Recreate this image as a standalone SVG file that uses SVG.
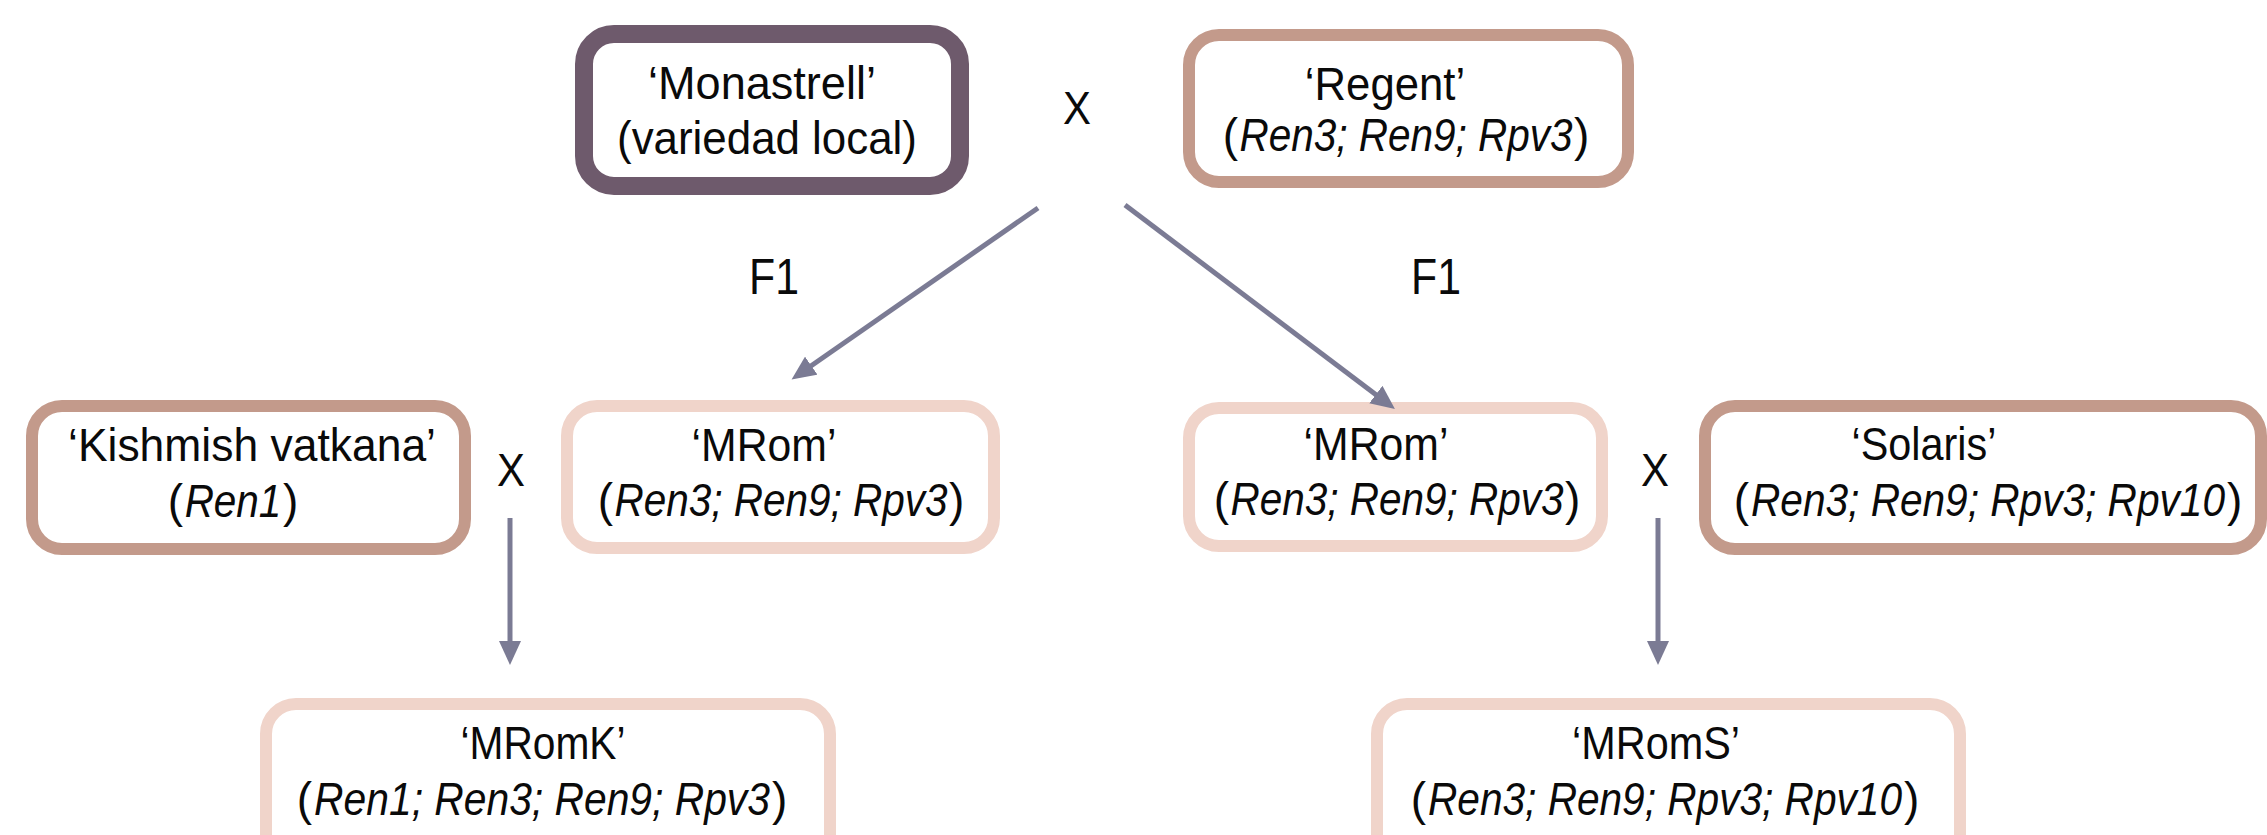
<svg xmlns="http://www.w3.org/2000/svg" width="2267" height="835" viewBox="0 0 2267 835">
<style>
.box{fill:#ffffff;stroke-width:12}
.t{font-family:"Liberation Sans",Arial,sans-serif;font-size:46px;fill:#0a0a0a;text-anchor:middle}
.i{font-style:italic}
.l{text-anchor:end}
.r{text-anchor:start}
.lbl{font-family:"Liberation Sans",Arial,sans-serif;font-size:46px;fill:#0a0a0a;text-anchor:middle}
.dark{stroke:#6E5A6C;stroke-width:18}
.mid{stroke:#C39A8B}
.light{stroke:#F0D4CA}
.conn{stroke:#7B7B94;stroke-width:5;fill:none}
</style>
<defs>
<marker id="ah" markerUnits="userSpaceOnUse" markerWidth="26" markerHeight="22" refX="4" refY="11" orient="auto">
<path d="M0,0 L24,11 L0,22 Z" fill="#7B7B94"/>
</marker>
</defs>
<rect width="2267" height="835" fill="#ffffff"/>
<g id="monastrell">
<rect class="box dark" x="584" y="34" width="376" height="152" rx="30"/>
<text class="t" transform="translate(762 99) scale(0.98 1)">‘Monastrell’</text>
<text class="t" transform="translate(767 154) scale(0.954 1)">(variedad local)</text>
</g>
<g id="regent">
<rect class="box mid" x="1189" y="35" width="439" height="147" rx="30"/>
<text class="t" transform="translate(1385 100) scale(0.95 1)">‘Regent’</text>
<text class="t l" x="1238" y="151">(</text>
<text class="t i" transform="translate(1406 151) scale(0.88 1)">Ren3; Ren9; Rpv3</text>
<text class="t r" x="1574" y="151">)</text>
</g>
<g id="kishmish">
<rect class="box mid" x="32" y="406" width="433" height="143" rx="30"/>
<text class="t" transform="translate(252 461) scale(0.966 1)">‘Kishmish vatkana’</text>
<text class="t l" x="183" y="517">(</text>
<text class="t i" transform="translate(233 517) scale(0.88 1)">Ren1</text>
<text class="t r" x="283" y="517">)</text>
</g>
<g id="mrom-left">
<rect class="box light" x="567" y="406" width="427" height="142" rx="30"/>
<text class="t" transform="translate(764 461) scale(0.93 1)">‘MRom’</text>
<text class="t l" x="613" y="516">(</text>
<text class="t i" transform="translate(781 516) scale(0.88 1)">Ren3; Ren9; Rpv3</text>
<text class="t r" x="949" y="516">)</text>
</g>
<g id="mrom-right">
<rect class="box light" x="1189" y="408" width="413" height="138" rx="30"/>
<text class="t" transform="translate(1376 460) scale(0.93 1)">‘MRom’</text>
<text class="t l" x="1229" y="515">(</text>
<text class="t i" transform="translate(1397 515) scale(0.88 1)">Ren3; Ren9; Rpv3</text>
<text class="t r" x="1565" y="515">)</text>
</g>
<g id="solaris">
<rect class="box mid" x="1705" y="406" width="556" height="143" rx="30"/>
<text class="t" transform="translate(1924 460) scale(0.9 1)">‘Solaris’</text>
<text class="t l" x="1749" y="516">(</text>
<text class="t i" transform="translate(1988 516) scale(0.883 1)">Ren3; Ren9; Rpv3; Rpv10</text>
<text class="t r" x="2227" y="516">)</text>
</g>
<g id="mromk">
<rect class="box light" x="266" y="704" width="564" height="200" rx="30"/>
<text class="t" transform="translate(543 759) scale(0.885 1)">‘MRomK’</text>
<text class="t l" x="312" y="815">(</text>
<text class="t i" transform="translate(542 815) scale(0.887 1)">Ren1; Ren3; Ren9; Rpv3</text>
<text class="t r" x="772" y="815">)</text>
</g>
<g id="mroms">
<rect class="box light" x="1377" y="704" width="583" height="200" rx="30"/>
<text class="t" transform="translate(1656 759) scale(0.9 1)">‘MRomS’</text>
<text class="t l" x="1426" y="815">(</text>
<text class="t i" transform="translate(1665 815) scale(0.883 1)">Ren3; Ren9; Rpv3; Rpv10</text>
<text class="t r" x="1904" y="815">)</text>
</g>
<g id="labels">
<text class="lbl" transform="translate(1077 124) scale(0.91 1)">X</text>
<text class="lbl" transform="translate(511 486) scale(0.91 1)">X</text>
<text class="lbl" transform="translate(1655 486) scale(0.91 1)">X</text>
<text class="lbl" style="font-size:50px" transform="translate(774 294) scale(0.856 1)">F1</text>
<text class="lbl" style="font-size:50px" transform="translate(1436 294) scale(0.856 1)">F1</text>
</g>
<g id="connectors">
<line class="conn" x1="1038" y1="208" x2="808" y2="368" marker-end="url(#ah)"/>
<line class="conn" x1="1125" y1="205" x2="1379" y2="397" marker-end="url(#ah)"/>
<line class="conn" x1="510" y1="518" x2="510" y2="645" marker-end="url(#ah)"/>
<line class="conn" x1="1658" y1="518" x2="1658" y2="645" marker-end="url(#ah)"/>
</g>
</svg>
